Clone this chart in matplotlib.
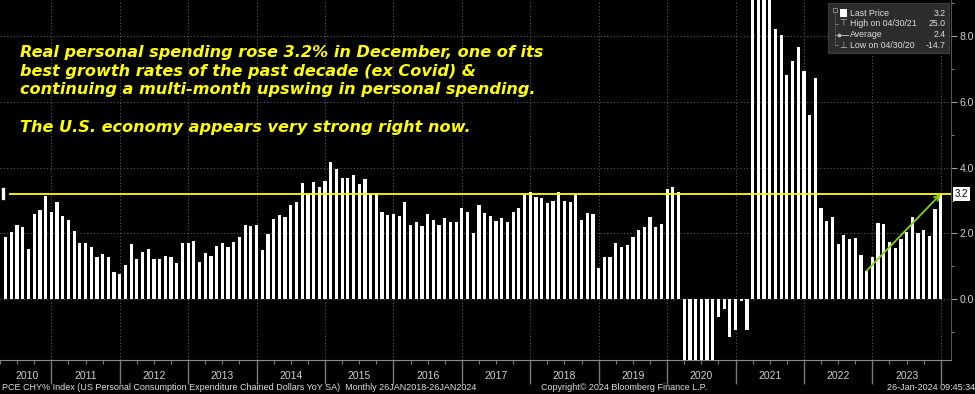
import numpy as np
import matplotlib
matplotlib.use("Agg")
import matplotlib.pyplot as plt
from matplotlib.patches import Rectangle
from matplotlib.lines import Line2D
from matplotlib.transforms import blended_transform_factory

W, H = 975, 394

# PCE CHY% Index, month-end values (first bar is Apr 2010)
pce_2010 = [1.88, 2.05, 2.26, 2.20, 1.52, 2.58, 2.72, 3.14, 2.66]
pce_2011 = [2.97, 2.54, 2.40, 2.09, 1.70, 1.70, 1.60, 1.29, 1.37, 1.29, 0.84, 0.77]
pce_2012 = [1.04, 1.68, 1.21, 1.43, 1.54, 1.21, 1.23, 1.32, 1.29, 1.10, 1.72, 1.70]
pce_2013 = [1.77, 1.14, 1.40, 1.33, 1.62, 1.70, 1.60, 1.74, 1.90, 2.25, 2.23, 2.26]
pce_2014 = [1.50, 1.97, 2.43, 2.55, 2.49, 2.87, 2.97, 3.53, 3.21, 3.56, 3.40, 3.60]
pce_2015 = [4.17, 3.95, 3.68, 3.70, 3.78, 3.51, 3.66, 3.19, 3.24, 2.64, 2.56, 2.60]
pce_2016 = [2.52, 2.96, 2.26, 2.36, 2.22, 2.60, 2.40, 2.26, 2.48, 2.36, 2.36, 2.76]
pce_2017 = [2.64, 2.03, 2.86, 2.62, 2.54, 2.38, 2.46, 2.36, 2.64, 2.78, 3.18, 3.25]
pce_2018 = [3.10, 3.08, 2.92, 2.98, 3.25, 3.00, 2.96, 3.18, 2.42, 2.62, 2.60, 0.94]
pce_2019 = [1.30, 1.30, 1.70, 1.58, 1.66, 1.88, 2.10, 2.20, 2.50, 2.20, 2.28, 3.34]
pce_2020 = [3.42, 3.26, -6.4, -14.7, -9.8, -5.3, -4.3, -3.1, -0.55, -0.29, -1.16, -0.93]
pce_2021 = [-0.05, -0.93, 11.0, 25.0, 16.5, 11.7, 8.21, 8.04, 6.82, 7.23, 7.66, 6.93]
pce_2022 = [5.60, 6.74, 2.78, 2.39, 2.51, 1.67, 1.94, 1.84, 1.85, 1.36, 0.87, 1.28]
pce_2023 = [2.32, 2.30, 1.73, 1.56, 1.83, 2.06, 2.51, 2.00, 2.11, 1.93, 2.75, 3.20]

last_price = 3.2
years = list(range(2010, 2024))
legend_labels = ["Last Price", "High on 04/30/21", "Average", "Low on 04/30/20"]
legend_values = ["3.2", "25.0", "2.4", "-14.7"]

note_lines = [
    "Real personal spending rose 3.2% in December, one of its",
    "best growth rates of the past decade (ex Covid) &",
    "continuing a multi-month upswing in personal spending.",
    "",
    "The U.S. economy appears very strong right now.",
]
footer_left = "PCE CHY% Index (US Personal Consumption Expenditure Chained Dollars YoY SA)  Monthly 26JAN2018-26JAN2024"
footer_mid = "Copyright\u00a9 2024 Bloomberg Finance L.P."
footer_right = "26-Jan-2024 09:45:34"

values = np.concatenate([pce_2010, pce_2011, pce_2012, pce_2013, pce_2014,
                         pce_2015, pce_2016, pce_2017, pce_2018, pce_2019,
                         pce_2020, pce_2021, pce_2022, pce_2023])
# month-end positions in fractional years
t = 2010 + (4 + np.arange(len(values))) / 12

plt.rcParams['font.family'] = ['Liberation Sans Narrow', 'Liberation Sans', 'DejaVu Sans']

def fx(x):
    return x / W

def fy(y):
    return 1 - y / H

fig = plt.figure(figsize=(W / 100, H / 100), dpi=100, facecolor='black')
ax = fig.add_axes([0, 34 / H, 951 / W, 360 / H], facecolor='black')
x0, x1 = 2010.2857, 2024.149
ax.set_xlim(x0, x1)
ax.set_ylim(-1.845, 9.097)

ax.bar(t, values, width=0.047, color='white', edgecolor='none', zorder=3)

# grid / axes styling
for s in ['top', 'left']:
    ax.spines[s].set_visible(False)
ax.spines['bottom'].set_color('#8a8a8a')
ax.spines['right'].set_color('#555555')
ax.yaxis.tick_right()
ax.set_yticks([0, 2, 4, 6, 8])
ax.set_yticklabels(['0.0', '2.0', '4.0', '6.0', '8.0'])
ax.set_yticks([-1, 1, 3, 5, 7, 9], minor=True)
ax.tick_params(axis='y', which='both', colors='#9a9a9a', labelcolor='#d0d0d0',
               labelsize=7.5, pad=2)
ax.tick_params(axis='y', which='major', length=4)
ax.tick_params(axis='y', which='minor', length=2.5)

ax.set_xticks(range(2011, 2025))
ax.set_xticklabels([])
quarters = [q for q in np.arange(2010.25, 2024.1, 0.25) if q % 1 != 0]
ax.set_xticks(quarters, minor=True)
ax.tick_params(axis='x', which='major', length=17, color='#7a7a7a', width=1)
ax.tick_params(axis='x', which='minor', length=3, color='#7a7a7a', width=0.8)
ax.grid(True, which='major', color='#5c5c5c', linestyle=(0, (1, 2)), linewidth=0.8, zorder=1)

bt = blended_transform_factory(ax.transData, ax.transAxes)
for yr in years:
    c = (max(yr, x0) + min(yr + 1, x1)) / 2
    ax.text(c, -0.045, str(yr), transform=bt, ha='center', va='center',
            fontsize=7.5, color='#d0d0d0')

# last price line + markers
ax.plot([2010.402, x1], [last_price, last_price], color='#ffff00', lw=1.3, zorder=4)
ax.add_patch(Rectangle((x0, 3.04), 0.025, 0.33, color='white', clip_on=False, zorder=5))
bt2 = blended_transform_factory(ax.transAxes, ax.transData)
ax.text(1.004, last_price, '3.2', transform=bt2, ha='left', va='center', fontsize=7,
        color='black', bbox=dict(boxstyle='square,pad=0.2', fc='white', ec='none'))

# green trend arrow
ax.annotate('', xy=(2024.0, last_price), xytext=(2022.917, 0.87),
            arrowprops=dict(arrowstyle='->', color='#84d40c', lw=1.3,
                            shrinkA=0, shrinkB=0, mutation_scale=9), zorder=6)

# annotation text
for i, line in enumerate(note_lines):
    fig.text(fx(20), fy(57 + 18.7 * i), line, family='DejaVu Sans', weight='bold',
             style='italic', fontsize=11.6, color='#ffff00', va='baseline', ha='left')

# legend box
fig.add_artist(Rectangle((fx(828), fy(53)), 121 / W, 50 / H, transform=fig.transFigure,
                         fc='#2c2c2c', ec='#3c3c3c', lw=0.8, zorder=10))
row_y = [13.3, 24, 34.7, 45]
for lab, val, ry in zip(legend_labels, legend_values, row_y):
    fig.text(fx(850), fy(ry), lab, fontsize=6.3, color='#dcdcdc', va='center', ha='left', zorder=11)
    fig.text(fx(946), fy(ry), val, fontsize=6.3, color='#dcdcdc', va='center', ha='right', zorder=11)
fig.add_artist(Rectangle((fx(840), fy(17)), 7 / W, 8 / H, transform=fig.transFigure,
                         fc='white', ec='none', zorder=11))
fig.add_artist(Line2D([fx(834.5), fx(834.5)], [fy(12), fy(45)], transform=fig.transFigure,
                      color='#808080', lw=0.6, ls=(0, (1, 1)), zorder=11))
fig.add_artist(Rectangle((fx(832.5), fy(12)), 4 / W, 4 / H, transform=fig.transFigure,
                         fc='none', ec='#909090', lw=0.6, zorder=11))
for ry in row_y[1:]:
    fig.add_artist(Line2D([fx(834.5), fx(838)], [fy(ry), fy(ry)], transform=fig.transFigure,
                          color='#808080', lw=0.6, zorder=11))
fig.text(fx(843), fy(24), '\u22a4', family='DejaVu Sans', fontsize=6.5, color='#bbbbbb',
         ha='center', va='center', zorder=11)
fig.add_artist(Line2D([fx(839), fx(848)], [fy(34.7), fy(34.7)], transform=fig.transFigure,
                      color='#bbbbbb', lw=0.7, marker='o', markersize=1.8,
                      markevery=[0], zorder=11))
fig.text(fx(843), fy(45), '\u22a5', family='DejaVu Sans', fontsize=6.5, color='#bbbbbb',
         ha='center', va='center', zorder=11)

# footer
fig.text(fx(2), fy(388), footer_left, fontsize=6.5, color='#e0e0e0', ha='left', va='center')
fig.text(fx(624), fy(388), footer_mid, fontsize=6.5, color='#e0e0e0', ha='center', va='center')
fig.text(fx(975), fy(388), footer_right, fontsize=6.5, color='#e0e0e0', ha='right', va='center')

fig.savefig('out.png', dpi=100, facecolor='black')
